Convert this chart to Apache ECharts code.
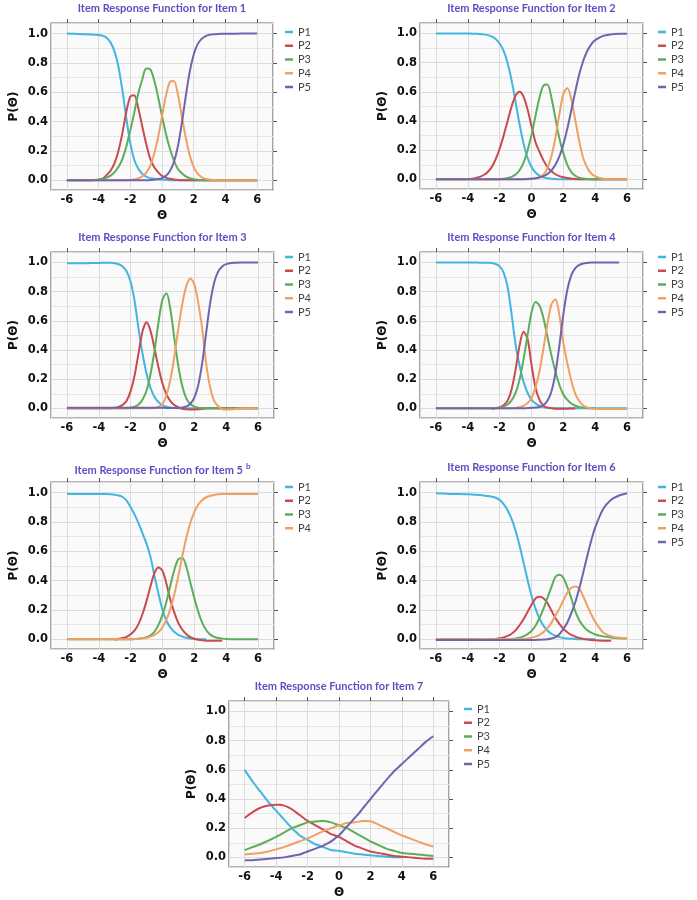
<!DOCTYPE html>
<html>
<head>
<meta charset="utf-8">
<script src="https://cdn.jsdelivr.net/npm/echarts@6/dist/echarts.min.js"></script>
<style>
  html, body { margin: 0; padding: 0; background: #fff; }
  #main { width: 697px; height: 900px; }
</style>
</head>
<body>
<div id="main"></div>
<script>
// theta grid shared by every curve (finer in the middle where the curves bend)
const thetas = [-6, -5.5, -5, -4.5,
  -4, -3.75, -3.5, -3.25, -3, -2.75, -2.5, -2.25,
  -2, -1.75, -1.5, -1.25, -1, -0.75, -0.5, -0.25,
  0, 0.25, 0.5, 0.75, 1, 1.25, 1.5, 1.75,
  2, 2.25, 2.5, 2.75, 3, 3.25, 3.5, 3.75,
  4, 4.5, 5, 5.5, 6];
const yTicks = [0, 0.2, 0.4, 0.6, 0.8, 1.0];
const xTicks = [-6, -4, -2, 0, 2, 4, 6];
const N = null;

// item 1
const item1_P1 = [1, 0.998, 0.996, 0.994, 0.99, 0.985, 0.972, 0.94, 0.88, 0.776, 0.614, 0.423, 0.253, 0.14, 0.08, 0.045, 0.025, 0.015, 0.01, 0.007, 0.005, 0.003, 0, 0, 0, 0, 0, 0, 0, 0, 0, 0, 0, 0, 0, 0, 0, 0, 0, 0, 0];
const item1_P2 = [0, 0, 0, 0, 0.003, 0.01, 0.035, 0.065, 0.115, 0.2, 0.32, 0.466, 0.57, 0.58, 0.495, 0.37, 0.25, 0.15, 0.09, 0.056, 0.03, 0.018, 0.01, 0.006, 0.003, 0, 0, 0, 0, 0, 0, 0, 0, 0, 0, 0, 0, 0, 0, 0, 0];
const item1_P3 = [0, 0, 0, 0.001, 0.006, 0.01, 0.018, 0.032, 0.054, 0.09, 0.145, 0.23, 0.34, 0.46, 0.59, 0.685, 0.762, 0.757, 0.685, 0.57, 0.44, 0.315, 0.215, 0.135, 0.077, 0.048, 0.027, 0.015, 0.008, 0.004, 0.002, 0, 0, 0, 0, 0, 0, 0, 0, 0, 0];
const item1_P4 = [0, 0, 0, 0, 0, 0, 0, 0, 0, 0, 0, 0, 0.003, 0.006, 0.013, 0.026, 0.053, 0.097, 0.18, 0.29, 0.435, 0.576, 0.67, 0.676, 0.585, 0.438, 0.29, 0.17, 0.09, 0.045, 0.021, 0.01, 0.005, 0.002, 0, 0, 0, 0, 0, 0, 0];
const item1_P5 = [0, 0, 0, 0, 0, 0, 0, 0, 0, 0, 0, 0, 0, 0, 0, 0, 0, 0.002, 0.004, 0.008, 0.015, 0.031, 0.063, 0.125, 0.23, 0.39, 0.574, 0.741, 0.858, 0.928, 0.964, 0.983, 0.992, 0.995, 0.997, 0.998, 0.998, 0.999, 1, 1, 1];

// item 2
const item2_P1 = [1, 1, 1, 1, 1, 0.999, 0.998, 0.997, 0.994, 0.989, 0.98, 0.963, 0.931, 0.881, 0.798, 0.679, 0.531, 0.378, 0.245, 0.148, 0.085, 0.047, 0.026, 0.014, 0.008, 0.004, 0.002, 0, 0, 0, 0, 0, 0, 0, 0, 0, 0, 0, 0, 0, 0];
const item2_P2 = [0, 0, 0, 0, 0.002, 0.005, 0.01, 0.017, 0.03, 0.051, 0.084, 0.138, 0.21, 0.3, 0.4, 0.5, 0.573, 0.6, 0.567, 0.48, 0.366, 0.255, 0.19, 0.13, 0.085, 0.055, 0.035, 0.022, 0.014, 0.009, 0.005, 0.003, 0.001, 0, 0, 0, 0, 0, 0, 0, 0];
const item2_P3 = [0, 0, 0, 0, 0, 0, 0, 0, 0, 0, 0, 0, 0.002, 0.004, 0.009, 0.017, 0.033, 0.063, 0.115, 0.198, 0.304, 0.435, 0.56, 0.644, 0.65, 0.56, 0.42, 0.28, 0.18, 0.1, 0.05, 0.025, 0.012, 0.006, 0.003, 0, 0, 0, 0, 0, 0];
const item2_P4 = [0, 0, 0, 0, 0, 0, 0, 0, 0, 0, 0, 0, 0, 0, 0, 0, 0, 0, 0, 0, 0.002, 0.006, 0.015, 0.033, 0.076, 0.158, 0.285, 0.447, 0.586, 0.627, 0.548, 0.406, 0.261, 0.145, 0.08, 0.04, 0.02, 0.004, 0, 0, 0];
const item2_P5 = [0, 0, 0, 0, 0, 0, 0, 0, 0, 0, 0, 0, 0, 0, 0, 0, 0, 0, 0.001, 0.003, 0.005, 0.008, 0.013, 0.022, 0.037, 0.061, 0.1, 0.157, 0.24, 0.348, 0.474, 0.603, 0.72, 0.813, 0.88, 0.926, 0.955, 0.984, 0.994, 0.998, 0.999];

// item 3
const item3_P1 = [0.995, 0.995, 0.995, 0.996, 0.997, 0.998, 0.999, 0.998, 0.995, 0.988, 0.973, 0.938, 0.866, 0.735, 0.542, 0.373, 0.237, 0.14, 0.078, 0.042, 0.022, 0.012, 0.006, 0.003, 0.001, 0, 0, 0, 0, 0, 0, 0, 0, 0, 0, 0, 0, 0, 0, 0, 0];
const item3_P2 = [0, 0, 0, 0, 0, 0, 0, 0, 0.004, 0.009, 0.024, 0.053, 0.118, 0.227, 0.38, 0.53, 0.59, 0.53, 0.41, 0.28, 0.17, 0.095, 0.05, 0.022, 0.008, -0.003, -0.006, -0.008, -0.008, -0.006, -0.003, 0, 0, 0, 0, 0, 0, 0, 0, 0, 0];
const item3_P3 = [0, 0, 0, 0, 0, 0, 0, 0, 0, 0, 0, 0, 0.005, 0.012, 0.027, 0.06, 0.122, 0.237, 0.395, 0.59, 0.747, 0.789, 0.675, 0.474, 0.285, 0.15, 0.067, 0.03, 0.012, 0.005, 0.002, 0, 0, 0, 0, 0, 0, 0, 0, 0, 0];
const item3_P4 = [0, 0, 0, 0, 0, 0, 0, 0, 0, 0, 0, 0, 0, 0, 0, 0, 0, 0, 0.003, 0.01, 0.03, 0.09, 0.2, 0.36, 0.55, 0.72, 0.84, 0.89, 0.85, 0.72, 0.54, 0.3, 0.14, 0.05, 0.015, -0.005, -0.008, -0.005, 0, 0, 0];
const item3_P5 = [0.005, 0.005, 0.005, 0.005, 0.005, 0.005, 0.005, 0.005, 0.005, 0.005, 0.005, 0.005, 0.005, 0.005, 0.005, 0.005, 0.005, 0.005, 0.005, 0.005, 0.004, 0.003, 0.002, 0.002, 0.003, 0.006, 0.014, 0.032, 0.074, 0.161, 0.317, 0.526, 0.727, 0.865, 0.939, 0.973, 0.989, 0.998, 1, 1, 1];

// item 4
const item4_P1 = [1, 1, 1, 1, 1, 1, 1, 0.999, 0.999, 0.998, 0.996, 0.99, 0.973, 0.931, 0.832, 0.646, 0.438, 0.294, 0.182, 0.107, 0.06, 0.033, 0.018, 0.01, 0.005, 0.002, 0, 0, 0, 0, 0, 0, 0, 0, 0, 0, 0, 0, 0, 0, 0];
const item4_P2 = [N, N, N, N, N, N, N, N, N, N, -0.004, 0.002, 0.007, 0.021, 0.053, 0.13, 0.265, 0.43, 0.525, 0.477, 0.3, 0.143, 0.058, 0.019, 0.005, 0.001, -0.002, -0.003, -0.003, -0.002, -0.001, 0, N, N, N, N, N, N, N, N, N];
const item4_P3 = [0, 0, 0, 0, 0, 0, 0, 0, 0, 0, 0, 0, 0.005, 0.012, 0.026, 0.055, 0.106, 0.197, 0.336, 0.5, 0.657, 0.729, 0.705, 0.62, 0.49, 0.365, 0.252, 0.16, 0.095, 0.058, 0.033, 0.018, 0.01, 0.006, 0.003, 0.001, 0, N, N, N, N];
const item4_P4 = [0, 0, 0, 0, 0, 0, 0, 0, 0, 0, 0, 0, 0, 0, 0, 0, 0.003, 0.008, 0.017, 0.036, 0.071, 0.143, 0.255, 0.41, 0.578, 0.713, 0.748, 0.64, 0.45, 0.31, 0.19, 0.1, 0.05, 0.02, 0.007, 0, -0.003, -0.005, -0.005, -0.005, -0.005];
const item4_P5 = [0, 0, 0, 0, 0, 0, 0, 0, 0, 0, 0, 0, 0, 0, 0, 0, 0, 0, 0, 0.002, 0.004, 0.006, 0.009, 0.022, 0.052, 0.116, 0.24, 0.43, 0.645, 0.813, 0.913, 0.962, 0.984, 0.993, 0.997, 1, 1, 1, 1, 1, N];

// item 5 (four categories)
const item5_P1 = [0.99, 0.99, 0.99, 0.99, 0.99, 0.99, 0.99, 0.988, 0.985, 0.98, 0.97, 0.945, 0.9, 0.85, 0.79, 0.72, 0.65, 0.56, 0.43, 0.31, 0.2, 0.125, 0.08, 0.05, 0.03, 0.018, 0.01, 0.005, 0.002, 0, 0, 0, N, N, N, N, N, N, N, N, N];
const item5_P2 = [N, N, N, N, N, N, N, N, -0.004, 0.003, 0.009, 0.017, 0.034, 0.061, 0.105, 0.174, 0.262, 0.363, 0.453, 0.489, 0.466, 0.377, 0.267, 0.18, 0.11, 0.065, 0.035, 0.015, 0.004, -0.003, -0.007, -0.009, -0.01, -0.01, -0.01, -0.01, N, N, N, N, N];
const item5_P3 = [0, 0, 0, 0, 0, 0, 0, 0, 0, 0, 0, 0, 0, 0.002, 0.004, 0.008, 0.015, 0.028, 0.053, 0.098, 0.168, 0.258, 0.37, 0.476, 0.546, 0.554, 0.493, 0.386, 0.28, 0.185, 0.112, 0.062, 0.032, 0.017, 0.009, 0.005, 0.002, 0, 0, 0, 0];
const item5_P4 = [0, 0, 0, 0, 0, 0, 0, 0, 0, 0, 0, 0, 0.001, 0.002, 0.004, 0.007, 0.01, 0.018, 0.03, 0.05, 0.082, 0.134, 0.209, 0.31, 0.435, 0.57, 0.694, 0.794, 0.869, 0.919, 0.95, 0.968, 0.978, 0.984, 0.988, 0.99, 0.99, 0.99, 0.99, 0.99, 0.99];

// item 6
const item6_P1 = [0.995, 0.993, 0.99, 0.99, 0.988, 0.987, 0.985, 0.983, 0.98, 0.977, 0.972, 0.965, 0.95, 0.922, 0.88, 0.82, 0.74, 0.639, 0.524, 0.406, 0.298, 0.209, 0.142, 0.093, 0.06, 0.038, 0.024, 0.015, 0.009, 0.006, 0.004, 0.002, 0.001, 0, 0, 0, 0, N, N, N, N];
const item6_P2 = [0, 0, 0, 0, 0, 0, -0.002, -0.004, -0.005, -0.004, 0, 0.003, 0.007, 0.013, 0.023, 0.038, 0.061, 0.096, 0.136, 0.186, 0.235, 0.278, 0.29, 0.28, 0.247, 0.196, 0.145, 0.105, 0.072, 0.048, 0.03, 0.018, 0.009, 0.003, -0.002, -0.005, -0.007, -0.009, -0.01, N, N];
const item6_P3 = [0, 0, 0, 0, 0, 0, 0, 0, 0, 0, 0, 0, 0, 0, 0.001, 0.003, 0.006, 0.011, 0.02, 0.035, 0.057, 0.092, 0.145, 0.207, 0.282, 0.356, 0.425, 0.44, 0.42, 0.355, 0.28, 0.19, 0.13, 0.09, 0.062, 0.045, 0.033, 0.02, 0.012, 0.007, 0.005];
const item6_P4 = [0, 0, 0, 0, 0, 0, 0, 0, 0, 0, 0, 0, 0, 0, 0, 0, 0, 0.001, 0.003, 0.006, 0.011, 0.018, 0.031, 0.049, 0.076, 0.112, 0.162, 0.209, 0.266, 0.317, 0.351, 0.36, 0.347, 0.292, 0.23, 0.17, 0.119, 0.047, 0.022, 0.01, 0.005];
const item6_P5 = [-0.005, -0.005, -0.005, -0.005, -0.005, -0.005, -0.005, -0.005, -0.005, -0.005, -0.005, -0.005, -0.005, -0.005, -0.005, -0.005, -0.005, -0.005, -0.005, -0.005, -0.005, -0.004, -0.003, -0.002, 0, 0.005, 0.015, 0.035, 0.07, 0.115, 0.178, 0.253, 0.348, 0.455, 0.567, 0.673, 0.763, 0.888, 0.951, 0.98, 0.995];

// item 7
const item7_P1 = [0.6, 0.52, 0.45, 0.38, 0.32, 0.29, 0.26, 0.23, 0.2, 0.175, 0.15, 0.135, 0.12, 0.105, 0.09, 0.08, 0.07, 0.06, 0.05, 0.047, 0.045, 0.04, 0.035, 0.03, 0.025, 0.022, 0.02, 0.017, 0.015, 0.012, 0.01, 0.007, 0.005, 0.003, 0.001, 0, 0, N, N, N, N];
const item7_P2 = [0.27, 0.31, 0.34, 0.355, 0.36, 0.36, 0.355, 0.345, 0.33, 0.31, 0.29, 0.27, 0.25, 0.235, 0.22, 0.205, 0.19, 0.175, 0.16, 0.15, 0.14, 0.125, 0.11, 0.095, 0.08, 0.07, 0.06, 0.05, 0.04, 0.035, 0.03, 0.025, 0.02, 0.015, 0.01, 0.007, 0.005, 0, -0.005, -0.01, -0.01];
const item7_P3 = [0.05, 0.07, 0.09, 0.115, 0.14, 0.155, 0.17, 0.185, 0.2, 0.21, 0.22, 0.23, 0.24, 0.243, 0.246, 0.248, 0.25, 0.246, 0.24, 0.23, 0.22, 0.21, 0.2, 0.185, 0.17, 0.155, 0.14, 0.125, 0.11, 0.097, 0.085, 0.072, 0.06, 0.052, 0.045, 0.037, 0.03, 0.025, 0.02, 0.015, 0.01];
const item7_P4 = [0.02, 0.025, 0.03, 0.04, 0.055, 0.062, 0.07, 0.08, 0.09, 0.1, 0.11, 0.12, 0.13, 0.142, 0.155, 0.168, 0.18, 0.19, 0.2, 0.21, 0.22, 0.228, 0.235, 0.238, 0.24, 0.245, 0.25, 0.25, 0.248, 0.238, 0.225, 0.212, 0.2, 0.188, 0.175, 0.162, 0.15, 0.13, 0.11, 0.09, 0.075];
const item7_P5 = [-0.02, -0.02, -0.015, -0.01, -0.005, -0.003, 0, 0.005, 0.01, 0.015, 0.02, 0.03, 0.04, 0.05, 0.06, 0.07, 0.08, 0.095, 0.11, 0.13, 0.15, 0.18, 0.21, 0.24, 0.27, 0.3, 0.335, 0.367, 0.4, 0.433, 0.465, 0.497, 0.53, 0.56, 0.59, 0.615, 0.64, 0.69, 0.74, 0.79, 0.83];

const catColors = { P1: '#43b5df', P2: '#c84b4f', P3: '#5cad5c', P4: '#f0a064', P5: '#6f64ad' };

// layout of the seven panels
const panels = [
  { title: 'Item Response Function for Item 1', left: 51, top: 23, width: 222, height: 167, legendLeft: 285, legendTop: 26,
    curves: { P1: item1_P1, P2: item1_P2, P3: item1_P3, P4: item1_P4, P5: item1_P5 } },
  { title: 'Item Response Function for Item 2', left: 420, top: 23, width: 223, height: 166, legendLeft: 658, legendTop: 26,
    curves: { P1: item2_P1, P2: item2_P2, P3: item2_P3, P4: item2_P4, P5: item2_P5 } },
  { title: 'Item Response Function for Item 3', left: 51, top: 252, width: 223, height: 166, legendLeft: 285, legendTop: 251,
    curves: { P1: item3_P1, P2: item3_P2, P3: item3_P3, P4: item3_P4, P5: item3_P5 } },
  { title: 'Item Response Function for Item 4', left: 420, top: 252, width: 223, height: 166, legendLeft: 658, legendTop: 251,
    curves: { P1: item4_P1, P2: item4_P2, P3: item4_P3, P4: item4_P4, P5: item4_P5 } },
  { title: 'Item Response Function for Item 5{sup|b}', left: 51, top: 482, width: 223, height: 167, legendLeft: 285, legendTop: 481,
    curves: { P1: item5_P1, P2: item5_P2, P3: item5_P3, P4: item5_P4 } },
  { title: 'Item Response Function for Item 6', left: 420, top: 482, width: 223, height: 167, legendLeft: 658, legendTop: 481,
    curves: { P1: item6_P1, P2: item6_P2, P3: item6_P3, P4: item6_P4, P5: item6_P5 } },
  { title: 'Item Response Function for Item 7', left: 229, top: 701, width: 220, height: 166, legendLeft: 464, legendTop: 703,
    curves: { P1: item7_P1, P2: item7_P2, P3: item7_P3, P4: item7_P4, P5: item7_P5 } }
];

const tickFont = { fontFamily: 'DejaVu Sans', fontWeight: 'bold', fontSize: 11.5, color: '#111' };
const nameFont = { fontFamily: 'DejaVu Sans', fontWeight: 'bold', fontSize: 12, color: '#111' };
const gridLine = { lineStyle: { color: '#dcdcdc', width: 1 } };

const option = {
  animation: false,
  backgroundColor: '#fff',
  title: [], legend: [], grid: [], xAxis: [], yAxis: [], series: []
};

panels.forEach((p, i) => {
  option.grid.push({
    left: p.left, top: p.top, width: p.width, height: p.height,
    show: true, backgroundColor: '#fafafa', borderColor: '#6a6a6a', borderWidth: 1.2
  });
  option.title.push({
    text: p.title,
    left: p.left + p.width / 2, top: p.top - 20, textAlign: 'center', padding: 0,
    textStyle: {
      fontFamily: 'Lato', fontWeight: 'bold', fontSize: 11, color: '#5a50c2',
      rich: { sup: { fontFamily: 'Lato', fontWeight: 'bold', fontSize: 8, color: '#5a50c2', verticalAlign: 'top', padding: [0, 0, 9, 3] } }
    }
  });
  option.legend.push({
    orient: 'vertical', left: p.legendLeft, top: p.legendTop, padding: 0,
    data: Object.keys(p.curves), icon: 'rect', itemWidth: 8, itemHeight: 2.5, itemGap: 1.75,
    textStyle: { fontFamily: 'Lato', fontSize: 11, color: '#444', lineHeight: 12 }
  });
  // bottom and top x axes
  option.xAxis.push({
    type: 'value', gridIndex: i, min: -7, max: 7, splitNumber: 7,
    name: 'Θ', nameLocation: 'middle', nameGap: 20, nameTextStyle: nameFont,
    axisLine: { show: false, onZero: false }, axisTick: { show: false },
    axisLabel: { ...tickFont, margin: 4, formatter: v => (xTicks.includes(v) ? String(v) : '') },
    splitLine: gridLine
  });
  option.xAxis.push({
    type: 'value', gridIndex: i, position: 'top', min: -7, max: 7, splitNumber: 7,
    axisLine: { show: false, onZero: false }, axisLabel: { show: false }, splitLine: { show: false },
    axisTick: { show: true, length: 4, customValues: xTicks, lineStyle: { color: '#555' } }
  });
  // left and right y axes
  option.yAxis.push({
    type: 'value', gridIndex: i, min: -0.066, max: 1.072, splitNumber: 5,
    name: 'P(Θ)', nameLocation: 'middle', nameGap: 31, nameTextStyle: nameFont,
    axisLine: { show: false, onZero: false }, axisTick: { show: false },
    axisLabel: {
      ...tickFont, margin: 3,
      formatter: v => (yTicks.some(t => Math.abs(t - v) < 1e-6) ? v.toFixed(1) : '')
    },
    splitLine: gridLine,
    minorTick: { show: false, splitNumber: 2 },
    minorSplitLine: { show: true, lineStyle: { color: '#e6e6e6', width: 1 } }
  });
  option.yAxis.push({
    type: 'value', gridIndex: i, position: 'right', min: -0.066, max: 1.072, splitNumber: 5,
    axisLine: { show: false, onZero: false }, axisLabel: { show: false }, splitLine: { show: false },
    axisTick: { show: true, length: 4, customValues: yTicks, lineStyle: { color: '#555' } }
  });
  Object.keys(p.curves).forEach(name => {
    const vals = p.curves[name];
    option.series.push({
      type: 'line', name: name, xAxisIndex: 2 * i, yAxisIndex: 2 * i,
      data: thetas.map((t, k) => [t, vals[k] === null ? '-' : vals[k]]),
      smooth: 0.3, showSymbol: false, symbol: 'none',
      color: catColors[name],
      lineStyle: { color: catColors[name], width: 2 }
    });
  });
});

const chart = echarts.init(document.getElementById('main'), null, { renderer: 'canvas' });
chart.setOption(option);
</script>
</body>
</html>
